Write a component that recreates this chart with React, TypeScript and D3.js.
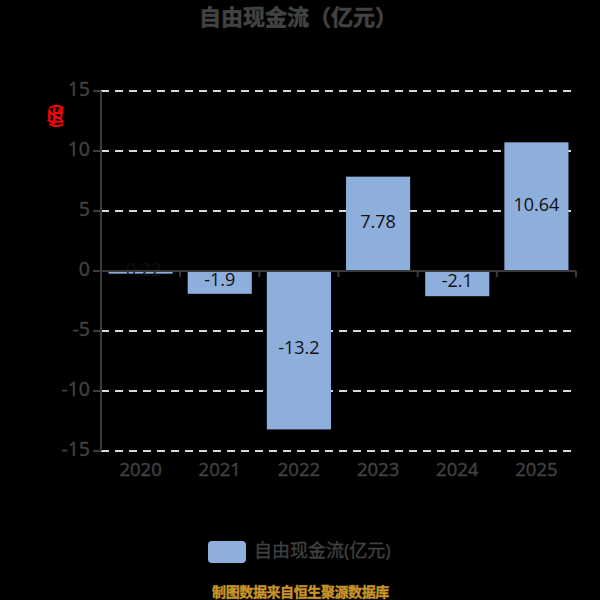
import React from "react";
import * as d3 from "d3";

const categories = ["2020", "2021", "2022", "2023", "2024", "2025"];
const values = [-0.22, -1.9, -13.2, 7.78, -2.1, 10.64];
const labels = ["-0.22", "-1.9", "-13.2", "7.78", "-2.1", "10.64"];
const yTicks = [-15, -10, -5, 0, 5, 10, 15];
const title = "自由现金流（亿元）";
const legendText = "自由现金流(亿元)";
const footer = "制图数据来自恒生聚源数据库";
const unitChars = ["(", "亿", "元", ")"];
const font = '"Open Sans", "Noto Sans CJK SC", sans-serif';

export default function App() {
  const x = d3.scaleBand().domain(categories).range([101, 576]).paddingInner(0.19).paddingOuter(0.095);
  const y = d3.scaleLinear().domain([-15, 15]).range([451, 91]);
  const step = x.step();
  const axis = "#3a3a3a";
  const text = "#424242";
  return (
    <svg width={600} height={600} style={{ position: "absolute", left: 0, top: 0, background: "#000" }} fontFamily={font}>
      <text x={298} y={25} textAnchor="middle" fontSize={22} fontWeight={700} fill={text} stroke={text} strokeWidth={0.6}>{title}</text>
      {yTicks.map((t) => (
        <g key={t}>
          <line x1={101} x2={576} y1={y(t)} y2={y(t)} stroke="#d8d8d8" strokeWidth={2} strokeDasharray="8 6" />
          <line x1={93} x2={101} y1={y(t)} y2={y(t)} stroke={axis} strokeWidth={2} />
          <text x={90} y={y(t) - 2.5} dy="0.36em" textAnchor="end" fontSize={19.5} fill={text} stroke={text} strokeWidth={0.4}>{t}</text>
        </g>
      ))}
      <line x1={101} x2={101} y1={91} y2={451} stroke={axis} strokeWidth={2} />
      {categories.map((c, i) => {
        const v = values[i];
        const bx = x(c)!;
        const top = y(Math.max(v, 0)) - (v > 0 ? 1 : 0);
        return (
          <g key={c}>
            <rect x={bx} y={top} width={x.bandwidth()} height={Math.abs(y(v) - y(0)) + (v > 0 ? 1 : 0)} fill="#8eaedb" />
            <text x={bx + x.bandwidth() / 2} y={y(v / 2) - 3} dy="0.36em" textAnchor="middle" fontSize={18} fill="#111">{labels[i]}</text>
            <text x={bx + x.bandwidth() / 2} y={476} textAnchor="middle" fontSize={18.5} fill={text} stroke={text} strokeWidth={0.4}>{c}</text>
          </g>
        );
      })}
      <line x1={101} x2={576} y1={y(0)} y2={y(0)} stroke={axis} strokeWidth={2} />
      {d3.range(categories.length + 1).map((i) => (
        <line key={i} x1={101 + i * step} x2={101 + i * step} y1={y(0)} y2={y(0) + 6} stroke={axis} strokeWidth={2} />
      ))}
      <g transform="translate(55,116) rotate(-90)">
        {unitChars.map((ch, i) => (
          <text key={i} x={[-9, -1, 1, 9][i]} textAnchor="middle" dy="0.36em" fontSize={16} fontWeight={700} fill="#f00">{ch}</text>
        ))}
      </g>
      <rect x={208} y={541} width={38} height={22} rx={4} fill="#8eaedb" />
      <text x={254} y={557} fontSize={18} fill={text} stroke={text} strokeWidth={0.3}>{legendText}</text>
      <text x={300.5} y={597} textAnchor="middle" fontSize={14} fontWeight={700} fill="#c8952a" stroke="#c8952a" strokeWidth={0.4} style={{ letterSpacing: "-0.4px" }}>{footer}</text>
    </svg>
  );
}
